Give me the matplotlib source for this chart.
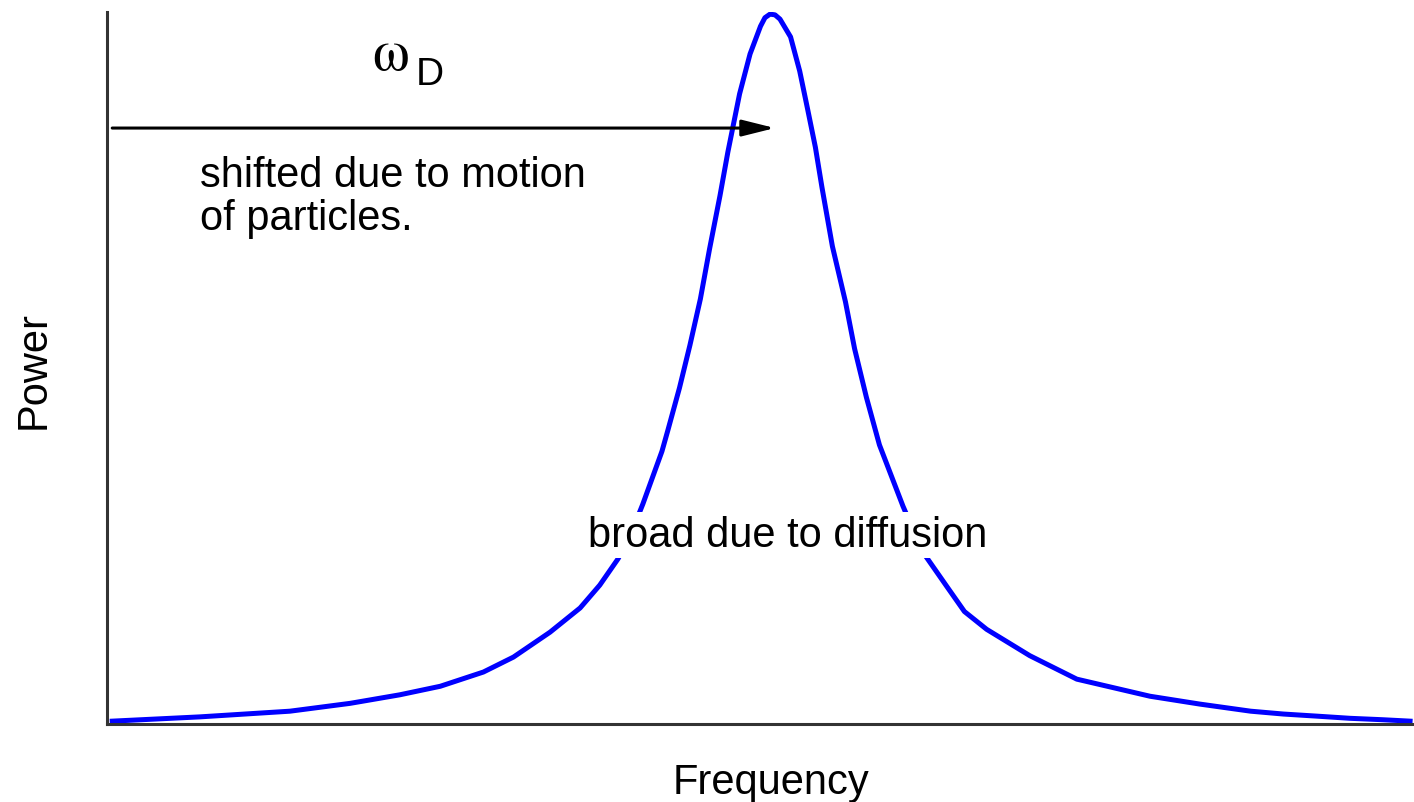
import matplotlib.pyplot as plt

# spectrum (arbitrary units, frequency 0..100, power 0..1)
frequency = [0.4, 7.1, 14.0, 18.6, 22.4, 25.5, 28.8, 31.1, 33.9, 36.2, 37.7, 39.1, 40.0,
             41.0, 42.46, 42.92, 43.8, 44.6, 45.4, 46.1, 46.9, 47.5, 48.4, 49.2, 50.0,
             50.34, 50.73, 51.11, 51.49, 52.3, 53.0, 53.6, 54.2, 54.7, 55.5, 56.5, 57.2,
             58.1, 59.1, 60.9, 62.4, 64.3, 65.6, 67.3, 70.6, 74.2, 79.8, 83.6, 87.5,
             90.0, 92.6, 95.1, 97.6, 99.7]
power = [0.004, 0.010, 0.018, 0.029, 0.041, 0.053, 0.073, 0.094, 0.129, 0.163, 0.195, 0.232, 0.263,
         0.309, 0.383, 0.413, 0.472, 0.532, 0.597, 0.667, 0.742, 0.803, 0.885, 0.941, 0.980,
         0.992, 0.997, 0.996, 0.990, 0.965, 0.917, 0.864, 0.810, 0.754, 0.671, 0.593, 0.527,
         0.459, 0.392, 0.306, 0.242, 0.192, 0.158, 0.133, 0.096, 0.063, 0.039, 0.028, 0.018,
         0.014, 0.011, 0.008, 0.006, 0.004]

arrow_start = (0.4, 0.837)
arrow_end = (51.1, 0.837)

plt.rcParams['font.family'] = ['Liberation Sans', 'DejaVu Sans']

fig = plt.figure(figsize=(14.14, 8.03), dpi=100)
ax = fig.add_axes([107 / 1414, 78 / 803, 1307 / 1414, 712 / 803])

ax.plot(frequency, power, color='#0000ff', lw=3.6, solid_joinstyle='round', zorder=2)

ax.set_xlim(0, 100)
ax.set_ylim(0, 1)
ax.set_xticks([])
ax.set_yticks([])
for side in ['top', 'right']:
    ax.spines[side].set_visible(False)
for side in ['left', 'bottom']:
    ax.spines[side].set_color('#333333')
    ax.spines[side].set_linewidth(2.2)

ax.set_xlabel('Frequency', fontsize=30)
ax.xaxis.set_label_coords(0.508, -0.053)
ax.set_ylabel('Power', fontsize=30)
ax.yaxis.set_label_coords(-0.0405, 0.4986)

ax.annotate('', xy=arrow_end, xytext=arrow_start,
            arrowprops=dict(arrowstyle='-|>,head_length=0.8,head_width=0.2',
                            color='black', lw=2.2, mutation_scale=25,
                            shrinkA=0, shrinkB=0), zorder=3)

ax.text(20.3, 0.920, 'ω', fontsize=42, family=['STIXGeneral', 'DejaVu Serif'], va='baseline')
ax.text(23.6, 0.899, 'D', fontsize=28, va='baseline')

ax.text(7.1, 0.756, 'shifted due to motion', fontsize=30, va='baseline')
ax.text(7.1, 0.695, 'of particles.', fontsize=30, va='baseline')

ax.text(52.1, 0.250, 'broad due to diffusion', fontsize=30, va='baseline', ha='center',
        bbox=dict(facecolor='white', edgecolor='none', pad=2), zorder=4)

fig.savefig('out.png', dpi=100)
